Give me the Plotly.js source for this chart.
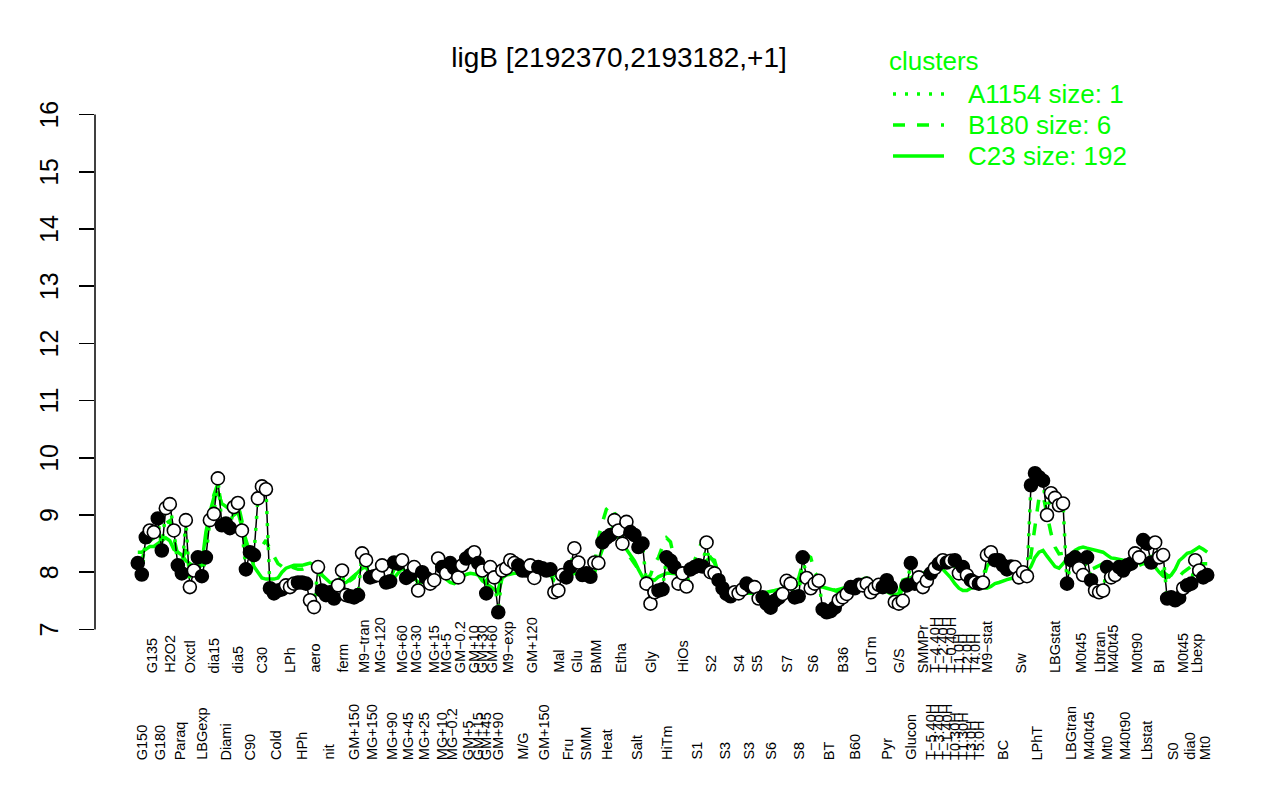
<!DOCTYPE html>
<html><head><meta charset="utf-8">
<script src="https://cdn.plot.ly/plotly-3.0.1.min.js"></script>
<style>html,body{margin:0;padding:0;background:#fff;}#chart{width:1280px;height:800px;}</style>
</head><body><div id="chart"></div>
<script>
// ---------------- DATA ----------------
const chartTitle = 'ligB [2192370,2193182,+1]';
const conditions = ['G150','G135','G180','H2O2','Paraq','Oxctl','LBGexp','dia15','Diami','dia5','C90','C30','Cold','LPh','HPh','aero','nit','ferm','GM+150','M9\u2212tran','MG+150','MG+120',
 'MG+90','MG+60','MG+45','MG+30','MG+25','MG+15','MG+10','MG+5','MG\u22120.2','GM\u22120.2','GM+5','GM+10','GM+15','GM+30','GM+45','GM+60','GM+90','M9\u2212exp','M/G','GM+120','GM+150',
 'Mal','Fru','Glu','SMM','BMM','Heat','Etha','Salt','Gly','HiTm','HiOs','S1','S2','S3','S4','S3','S5','S6','S7','S8','S6','BT','B36','B60','LoTm','Pyr','G/S','Glucon','SMMPr',
 'T\u22125.40H','T\u22124.40H','T\u22123.40H','T\u22122.40H','T\u22121.40H','T\u22120.40H','T0.30H','T1.0H','T1.30H','T2.0H','T3.0H','T4.0H','T5.0H',
 'M9\u2212stat','BC','Sw','LPhT','LBGstat','LBGtran','M0t45','M40t45','Lbtran','Mt0','M40t45','M40t90','M0t90','Lbstat','BI','S0','M0t45','dia0','Lbexp','Mt0'];
const replicates = [3,2,2,3,2,3,3,3,3,3,3,3,4,3,3,3,4,3,3,2,2,2,
 4,1,2,2,2,3,1,1,2,2,2,1,1,1,1,2,1,4,3,2,4,
 3,2,2,3,2,3,4,4,3,5,3,4,3,4,3,2,2,5,3,3,4,4,3,3,5,3,3,3,3,
 1,1,1,1,1,1,1,1,1,1,1,1,1,
 3,5,4,4,5,3,2,2,3,1,2,4,2,3,3,4,1,2,2,2];
// ligB expression (also the profile of its own one-gene cluster A1154)
const ligB = [8.16,7.96,8.61, 8.73,8.70, 8.94,8.38, 9.12,9.19,8.73, 8.12,7.98, 8.91,7.74,8.03, 8.26,7.93,8.26, 8.91,9.02,9.64, 8.82,8.85,8.77, 9.14,9.21,8.73, 8.05,8.35,8.30, 9.29,9.50,9.45, 7.72,7.63,7.68,7.70, 7.77,7.74,7.80, 7.82,7.82,7.80, 7.51,7.39,8.09, 7.68,7.60,7.65,7.54, 7.77,8.03,7.60, 7.58,7.56,7.60, 8.33,8.21, 7.91,7.93, 7.95,8.12,
 7.82,7.84,8.17,8.15, 8.21, 7.90,7.95, 8.09,7.68, 8.00,7.90, 7.80,7.86,8.24, 8.09, 7.98, 8.16,8.07, 7.91,8.12, 8.24,8.30, 8.35, 8.16, 8.03, 7.63, 8.09,7.91, 7.30, 8.03,8.07,8.21,8.16, 8.12,8.03,8.03, 8.12,7.90, 8.09,8.07,8.03,8.05,
 7.65,7.68,7.95, 7.91,8.09, 8.42,8.17, 7.95,7.98,7.92, 8.17,8.16, 8.52,8.60,8.65, 8.91,8.73,8.50,8.88, 8.70,8.65,8.44,8.50, 7.80,7.45,7.65, 7.68,7.70,8.26,8.20,8.09, 7.80,7.98,7.75, 8.05,8.09,8.12,8.10, 8.52,8.00,7.98, 7.86,7.72,7.62,7.58, 7.65,7.63,7.70, 7.80,7.75, 7.74,7.54, 7.56,7.45,7.38,7.50,7.55, 7.62,7.85,7.80, 7.56,7.58,8.26, 7.90,7.72,7.80,7.85, 7.35,7.30,7.32,7.38, 7.51,7.56,7.62, 7.74,7.72,7.78, 7.77,7.80,7.65,7.72,7.78, 7.74,7.86,7.74, 7.48,7.45,7.50, 7.77,8.16,7.80, 7.91,7.74,7.85,
 7.98,8.07,8.15,8.21,8.17,8.20,8.21,7.98,8.09,7.95,7.86,7.82,7.80,
 7.82,8.30,8.35, 8.21,8.21,8.12,8.05,8.10, 8.09,7.91,8.00,7.93, 9.52,9.73,9.66,9.60, 9.00,9.38,9.30,9.17,9.20, 7.80,8.21,8.26, 8.07,7.95, 8.26,7.86, 7.68,7.65,7.68, 8.09, 7.91,7.95, 8.09,8.03,8.12,8.15, 8.33,8.26, 8.56,8.50,8.17, 8.52,8.26,8.30, 7.54,7.56,7.51,7.55, 7.72, 7.77,7.80, 8.21,8.03, 7.91,7.95];
// cluster C23 (192 genes) profile
const c23 = [8.35,8.35,8.40, 8.45,8.45, 8.50,8.55, 8.60,8.55,8.40, 8.35,8.30, 8.20,8.15,8.10, 8.05,8.15,8.70, 9.05,9.30,9.40, 9.20,9.15,9.15, 9.00,9.05,8.80, 8.55,8.30,8.10, 8.00,7.90,7.88, 7.88,7.88,7.90,8.00, 8.07,8.10,8.12, 8.12,8.12,8.14, 8.16,8.12,8.09, 7.95,7.88,7.82,7.80, 7.80,7.80,7.82, 7.88,7.92,8.00, 8.07,8.09, 7.95,7.86, 7.90,7.93,
 7.85,7.82,7.90,7.98, 8.07, 8.00,7.95, 7.90,7.82, 7.82,7.86, 7.88,7.90,7.91, 7.92, 7.88, 7.82,7.80, 7.85,7.92, 7.96,7.98, 7.97, 7.95, 7.85, 7.80, 7.75,7.70, 7.63, 7.90,7.95,7.97,7.98, 7.98,7.98,7.99, 8.00,8.00, 8.00,8.00,7.97,7.95,
 7.95,7.92,7.90, 7.93,7.96, 7.98,7.96, 7.93,7.91,7.94, 7.98,8.20, 8.38,8.60,8.68, 8.65,8.60,8.50,8.40, 8.30,8.20,8.05,7.92, 7.90,7.88,7.86, 7.92,7.95,7.98,7.98,7.97, 7.97,7.98,7.98, 8.00,8.02,8.05,8.10, 8.20,8.26,8.16, 8.00,7.80,7.70,7.66, 7.64,7.63,7.63, 7.63,7.63, 7.63,7.63, 7.63,7.65,7.66,7.68,7.70, 7.71,7.72,7.72, 7.74,7.80,7.91, 7.85,7.80,7.76,7.74, 7.74,7.72,7.70,7.68, 7.70,7.72,7.74, 7.76,7.80,7.85, 7.88,7.90,7.85,7.80,7.74, 7.70,7.66,7.62, 7.60,7.63,7.86, 7.88,7.90,7.92, 7.95,7.98,8.02,
 8.05,8.08,8.09,8.05,7.98,7.90,7.80,7.72,7.68,7.68,7.72,7.74,7.74,
 7.73,7.72,7.75, 7.80,7.82,7.85,7.87,7.89, 7.90,7.92,7.96,8.00, 8.10,8.26,8.35,8.38, 8.28,8.20,8.10,8.07,8.15, 8.21,8.30,8.38, 8.42,8.44, 8.42,8.40, 8.38,8.36,8.35, 8.30, 8.25,8.24, 8.22,8.21,8.20,8.19, 8.17,8.17, 8.17,8.17,8.12, 8.09,8.00,7.93, 7.91,7.95,8.05,8.20, 8.26, 8.33,8.35, 8.40,8.44, 8.40,8.35];
// cluster B180 (6 genes) profile
const b180 = [8.25,8.20,8.45, 8.55,8.60, 8.75,8.55, 8.85,8.90,8.60, 8.30,8.20, 8.40,8.05,8.10, 8.20,8.10,8.60, 9.00,9.35,9.55, 9.10,9.05,9.20, 9.25,9.20,8.90, 8.40,8.30,8.20, 8.30,8.45,8.56, 8.40,8.28,8.15,8.10, 8.15,8.10,8.08, 8.05,8.05,8.08, 8.10,8.12,8.10, 7.95,7.88,7.85,7.80, 7.85,7.95,7.85, 7.85,7.90,8.05, 8.15,8.20, 8.00,7.95, 7.95,8.05,
 7.90,7.88,8.05,8.10, 8.12, 8.00,7.98, 8.02,7.85, 7.90,7.92, 7.88,7.90,8.05, 8.02, 7.95, 8.05,8.02, 7.92,8.00, 8.10,8.15, 8.18, 8.05, 7.95, 7.85, 7.95,7.90, 7.70, 7.95,8.00,8.10,8.08, 8.05,8.02,8.00, 8.05,7.95, 8.02,8.02,8.00,7.95,
 7.85,7.82,7.88, 7.92,8.00, 8.15,8.10, 7.98,7.98,7.95, 8.10,8.60, 8.87,9.10,9.17, 9.05,8.82,8.60,8.38, 8.25,8.15,8.05,7.95, 7.90,7.95,8.15, 8.26,8.45,8.60,8.53,8.21, 8.05,8.00,8.05, 8.10,8.20,8.40,8.55, 8.45,8.24,8.21, 7.95,7.85,7.75,7.70, 7.68,7.66,7.68, 7.70,7.68, 7.65,7.62, 7.60,7.58,7.55,7.60,7.65, 7.70,7.85,7.85, 7.80,7.90,8.15, 8.30,8.26,8.00,7.90, 7.85,7.78,7.72,7.68, 7.65,7.65,7.70, 7.75,7.78,7.80, 7.82,7.82,7.80,7.78,7.75, 7.72,7.70,7.68, 7.62,7.60,7.70, 7.80,7.95,7.90, 7.90,7.85,7.92,
 8.00,8.05,8.12,8.15,8.15,8.15,8.10,8.00,8.00,7.95,7.88,7.85,7.82,
 7.85,8.10,8.20, 8.10,8.08,8.05,8.00,8.02, 8.00,7.95,7.98,7.95, 8.30,8.79,9.30,9.35, 9.00,8.68,8.44,8.32,8.33, 8.33,8.25,8.20, 8.12,8.10, 8.08,8.05, 8.08,8.12,8.15, 8.16, 8.15,8.14, 8.12,8.10,8.10,8.10, 8.10,8.12, 8.15,8.15,8.12, 8.10,8.05,8.00, 7.95,7.90,7.88,7.92, 8.00, 8.05,8.10, 8.15,8.15, 8.15,8.15];
const clusterNames = ['A1154','B180','C23'];
const clusterSizes = [1,6,192];
const yTicks = [7,8,9,10,11,12,13,14,15,16];

// ---------------- BUILD ----------------
const GREEN = '#00ff00';
const FONT = 'Liberation Sans, Arial, Helvetica, sans-serif';
const samples = [], groupOf = [];
conditions.forEach((c, g) => { for (let k = 0; k < replicates[g]; k++) { samples.push(c); groupOf.push(g); } });
const N = samples.length;
const xs = samples.map((_, i) => i);
const filled = groupOf.map(g => g % 2 === 0);

// geometry of the plot region (pixels)
const L = 95, R = 1250, T = 94, B = 650;
const W = 1280, H = 800;
const pxX = p => (p - L) / (R - L);
const pxY = p => (B - p) / (B - T);
const ext = 0.04 * (N - 1);
const yExt = 0.04 * 9;

const lineTrace = (y, color, width, dash) => ({
  x: xs, y: y, type: 'scatter', mode: 'lines', hoverinfo: 'skip',
  line: {color: color, width: width, dash: dash || 'solid'}, showlegend: false, cliponaxis: false
});

const traces = [
  lineTrace(c23, GREEN, 3.5, 'solid'),
  lineTrace(b180, GREEN, 3.5, '12px,12px'),
  lineTrace(ligB, '#000000', 1.5, 'solid'),
  lineTrace(ligB, GREEN, 3.5, '3px,9px'),
  {
    x: xs, y: ligB, type: 'scatter', mode: 'markers', showlegend: false, hoverinfo: 'skip',
    marker: {size: 13, symbol: 'circle', color: filled.map(f => f ? '#000' : '#fff'), line: {color: '#000', width: 1.6}}
  },
  {
    x: xs, y: xs.map(() => 6.0), type: 'scatter', mode: 'markers', showlegend: false, hoverinfo: 'skip', cliponaxis: false,
    marker: {size: 4.5, symbol: 'circle', color: filled.map(f => f ? '#000' : '#fff'), line: {color: '#000', width: 0.9}}
  }
];

const annotations = [];
// y tick labels (R style, parallel to the axis)
yTicks.forEach(v => {
  annotations.push({x: pxX(49), xref: 'paper', y: v, yref: 'y', text: String(v), textangle: -90, showarrow: false,
    xanchor: 'center', yanchor: 'middle', font: {family: FONT, size: 25, color: '#000'}, borderpad: 0});
});

// condition labels, alternating two rows
let start = 0;
conditions.forEach((c, g) => {
  const center = start + (replicates[g] - 1) / 2;
  start += replicates[g];
  const upper = g % 2 === 1;
  annotations.push({
    x: center, xref: 'x', y: upper ? pxY(674) : pxY(761), yref: 'paper',
    text: c, textangle: -90, showarrow: false, xanchor: 'center', yanchor: 'bottom',
    font: {family: FONT, size: 14.5, color: '#000'}, borderpad: 0
  });
});

// legend (drawn by hand, R style)
const shapes = [
  {type: 'line', xref: 'paper', yref: 'y', x0: 0, x1: 0, y0: 7, y1: 16, line: {color: '#000', width: 1.5}}
];
annotations.push({x: pxX(887), y: pxY(61), xref: 'paper', yref: 'paper', text: 'clusters', showarrow: false,
  xanchor: 'left', yanchor: 'middle', font: {family: FONT, size: 26, color: GREEN}});
const legendDash = ['3px,9px', '12px,12px', 'solid'];
clusterNames.forEach((name, k) => {
  const yc = 94 + k * 31;
  annotations.push({x: pxX(966), y: pxY(yc), xref: 'paper', yref: 'paper', text: name + ' size: ' + clusterSizes[k],
    showarrow: false, xanchor: 'left', yanchor: 'middle', font: {family: FONT, size: 26, color: GREEN}});
  shapes.push({type: 'line', xref: 'paper', yref: 'paper', x0: pxX(893), x1: pxX(944), y0: pxY(yc), y1: pxY(yc),
    line: {color: GREEN, width: 3.5, dash: legendDash[k]}});
});

const layout = {
  width: W, height: H,
  margin: {l: L, r: W - R, t: T, b: H - B, pad: 0},
  paper_bgcolor: '#fff', plot_bgcolor: '#fff',
  showlegend: false,
  title: {text: chartTitle, x: 619 / W, xref: 'container', xanchor: 'center', y: 1 - 57 / H, yref: 'container', yanchor: 'middle',
    font: {family: FONT, size: 28, color: '#000'}},
  xaxis: {range: [-ext, N - 1 + ext], showgrid: false, zeroline: false, showline: false, showticklabels: false, ticks: '', fixedrange: true},
  yaxis: {range: [7 - yExt, 16 + yExt], showgrid: false, zeroline: false, showline: false,
    tickmode: 'array', tickvals: yTicks, showticklabels: false, ticks: 'outside', ticklen: 15, tickwidth: 1.5, tickcolor: '#000', fixedrange: true},
  annotations: annotations,
  shapes: shapes
};

Plotly.newPlot('chart', traces, layout, {staticPlot: true, displayModeBar: false});
</script>
</body></html>
